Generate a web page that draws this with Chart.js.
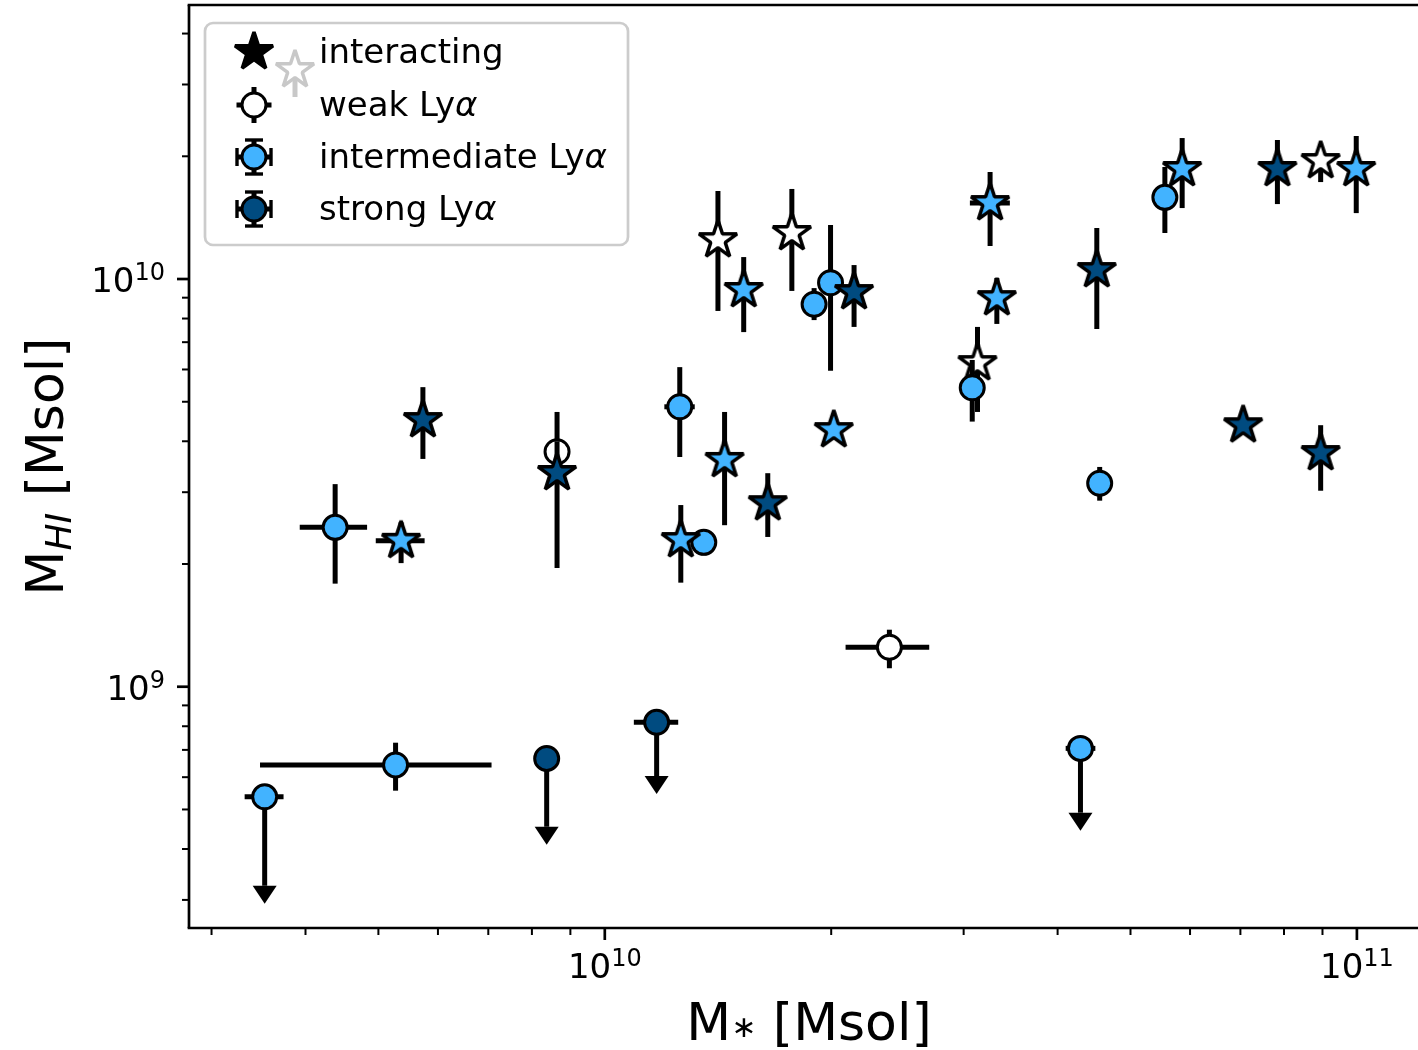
<!DOCTYPE html>
<html>
<head>
<meta charset="utf-8">
<title>M_HI vs M*</title>
<script src="https://cdn.jsdelivr.net/npm/chart.js@4.4.1/dist/chart.umd.min.js"></script>
<style>
  html, body { margin:0; padding:0; overflow:hidden; background:#ffffff; }
  #wrap { position:relative; width:1431px; height:1050px; }
  canvas { display:block; }
</style>
</head>
<body>
<div id="wrap"><canvas id="chart" width="1431" height="1050"></canvas></div>
<script>
// ---------------- DATA ----------------
// each row: [M*, M_HI, M*_low, M*_high, M_HI_low, M_HI_high, upperLimit]
const weakCircles = [
  [8.64e9, 3.77e9, null, null, 3.35e9, 4.72e9, 0],
  [2.39e10, 1.25e9, 2.09e10, 2.70e10, 1.11e9, 1.38e9, 0]
];
const intermediateCircles = [
  [3.53e9, 5.37e8, 3.32e9, 3.74e9, 3.25e8, null, 1],
  [5.27e9, 6.43e8, 3.48e9, 7.07e9, 5.56e8, 7.29e8, 0],
  [4.38e9, 2.46e9, 3.93e9, 4.83e9, 1.79e9, 3.14e9, 0],
  [1.258e10, 4.86e9, 1.20e10, 1.317e10, 3.66e9, 6.08e9, 0],
  [1.354e10, 2.26e9, null, null, 2.10e9, 2.39e9, 0],
  [1.898e10, 8.67e9, null, null, 7.93e9, 9.50e9, 0],
  [1.996e10, 9.79e9, null, null, 5.96e9, 1.356e10, 0],
  [3.08e10, 5.41e9, null, null, 4.47e9, 6.33e9, 0],
  [4.29e10, 7.06e8, 4.10e10, 4.49e10, 4.91e8, null, 1],
  [4.55e10, 3.155e9, null, null, 2.86e9, 3.46e9, 0],
  [5.555e10, 1.586e10, null, null, 1.297e10, 1.883e10, 0]
];
const strongCircles = [
  [8.37e9, 6.67e8, null, null, 4.535e8, null, 1],
  [1.172e10, 8.18e8, 1.093e10, 1.252e10, 6.04e8, null, 1]
];
const weakStars = [
  [1.414e10, 1.246e10, null, null, 8.35e9, 1.644e10, 0],
  [1.773e10, 1.297e10, null, null, 9.35e9, 1.663e10, 0],
  [3.13e10, 6.22e9, null, null, 4.72e9, 7.63e9, 0],
  [8.95e10, 1.947e10, null, null, 1.729e10, 2.096e10, 0]
];
const intermediateStars = [
  [5.36e9, 2.28e9, 4.96e9, 5.76e9, 2.01e9, 2.53e9, 0],
  [1.262e10, 2.29e9, null, null, 1.80e9, 2.79e9, 0],
  [1.443e10, 3.60e9, null, null, 2.49e9, 4.72e9, 0],
  [1.530e10, 9.40e9, null, null, 7.41e9, 1.132e10, 0],
  [2.016e10, 4.26e9, null, null, 4.07e9, 4.47e9, 0],
  [3.253e10, 1.536e10, 3.058e10, 3.456e10, 1.205e10, 1.83e10, 0],
  [3.321e10, 8.98e9, null, null, 7.76e9, 1.006e10, 0],
  [5.857e10, 1.862e10, null, null, 1.493e10, 2.217e10, 0],
  [9.98e10, 1.862e10, null, null, 1.451e10, 2.243e10, 0]
];
const strongStars = [
  [5.73e9, 4.51e9, null, null, 3.62e9, 5.43e9, 0],
  [8.64e9, 3.344e9, null, null, 1.955e9, 4.0e9, 0],
  [1.647e10, 2.82e9, null, null, 2.33e9, 3.34e9, 0],
  [2.145e10, 9.29e9, null, null, 7.63e9, 1.082e10, 0],
  [4.51e10, 1.052e10, null, null, 7.54e9, 1.334e10, 0],
  [7.06e10, 4.38e9, null, null, 4.25e9, 4.52e9, 0],
  [7.84e10, 1.862e10, null, null, 1.527e10, 2.193e10, 0],
  [8.95e10, 3.743e9, null, null, 3.025e9, 4.38e9, 0]
];

// ticks and labels
const xMajorExps = [10, 11];
const xMinorTicks = [3e9, 4e9, 5e9, 6e9, 7e9, 8e9, 9e9, 2e10, 3e10, 4e10, 5e10, 6e10, 7e10, 8e10, 9e10];
const yMajorExps = [9, 10];
const yMinorTicks = [3e8, 4e8, 5e8, 6e8, 7e8, 8e8, 9e8, 2e9, 3e9, 4e9, 5e9, 6e9, 7e9, 8e9, 9e9, 2e10, 3e10, 4e10];
const legendLabels = ['interacting', 'weak Lyα', 'intermediate Lyα', 'strong Lyα'];
const xTitleParts = ['M', '\u2217', ' [Msol]'];
const yTitleParts = ['M', 'HI', ' [Msol]'];
const X_MIN = 2.80e9, X_MAX = 1.247e11;
const Y_MIN = 2.56e8, Y_MAX = 4.70e10;

// ---------------- STYLE ----------------
const WHITE = '#ffffff', LIGHT = '#42b3ff', DARK = '#004b80';
const FONT = '"DejaVu Sans"';
const ERR_LW = 5, EDGE_LW = 3, STAR_LW = 3.5, STAR_R = 20, CIRC_R = 12;

function starPath(g, cx, cy, R) {
  const r = R * 0.381966;
  g.beginPath();
  for (let i = 0; i < 10; i++) {
    const ang = -Math.PI / 2 + i * Math.PI / 5;
    const rr = (i % 2) ? r : R;
    const px = cx + rr * Math.cos(ang), py = cy + rr * Math.sin(ang);
    if (i === 0) g.moveTo(px, py); else g.lineTo(px, py);
  }
  g.closePath();
}
function drawStar(g, cx, cy, fill, stroke) {
  starPath(g, cx, cy, STAR_R);
  g.fillStyle = fill; g.fill();
  g.lineJoin = 'bevel';
  g.lineWidth = STAR_LW; g.strokeStyle = stroke; g.stroke();
}
function starImg(fill) {
  const s = 64;
  const c = document.createElement('canvas');
  c.width = s; c.height = s;
  const g = c.getContext('2d');
  drawStar(g, s / 2, s / 2, fill, '#000');
  return c;
}

function mk(label, rows, shape, fill, order) {
  return {
    label: label,
    rows: rows,
    order: order,
    data: rows.map(r => ({ x: r[0], y: r[1] })),
    pointStyle: shape === 'star' ? starImg(fill) : 'circle',
    pointRadius: shape === 'star' ? 20 : CIRC_R,
    pointHoverRadius: shape === 'star' ? 20 : CIRC_R,
    pointBorderWidth: EDGE_LW,
    pointHoverBorderWidth: EDGE_LW,
    pointBackgroundColor: fill,
    pointBorderColor: '#000',
    showLine: false
  };
}

// error bars drawn under each dataset's markers
const errPlugin = {
  id: 'errbars',
  beforeDatasetDraw(chart, args) {
    const ds = chart.data.datasets[args.index];
    if (!ds.rows) return;
    const { ctx, chartArea: a, scales: { x, y } } = chart;
    ctx.save();
    ctx.beginPath(); ctx.rect(a.left, a.top, a.right - a.left, a.bottom - a.top); ctx.clip();
    ctx.strokeStyle = '#000'; ctx.fillStyle = '#000'; ctx.lineWidth = ERR_LW; ctx.lineCap = 'butt';
    const seg = (x1, y1, x2, y2) => { ctx.beginPath(); ctx.moveTo(x1, y1); ctx.lineTo(x2, y2); ctx.stroke(); };
    ds.rows.forEach(r => {
      const px = x.getPixelForValue(r[0]), py = y.getPixelForValue(r[1]);
      if (r[2] != null && r[3] != null) seg(x.getPixelForValue(r[2]), py, x.getPixelForValue(r[3]), py);
      if (r[6]) {
        const pb = y.getPixelForValue(r[4]);
        seg(px, py, px, pb);
        ctx.beginPath(); ctx.moveTo(px - 12, pb); ctx.lineTo(px + 12, pb); ctx.lineTo(px, pb + 18); ctx.closePath(); ctx.fill();
      } else if (r[4] != null && r[5] != null) {
        seg(px, y.getPixelForValue(r[5]), px, y.getPixelForValue(r[4]));
      }
    });
    ctx.restore();
  }
};

function drawPow(ctx, exp, x, yBase, align) {
  ctx.font = '34px ' + FONT; const wb = ctx.measureText('10').width;
  ctx.font = '24px ' + FONT; const we = ctx.measureText(String(exp)).width;
  const total = wb + we;
  const x0 = align === 'center' ? x - total / 2 : x - total;
  ctx.textAlign = 'left'; ctx.textBaseline = 'alphabetic'; ctx.fillStyle = '#000';
  ctx.font = '34px ' + FONT; ctx.fillText('10', x0, yBase);
  ctx.font = '24px ' + FONT; ctx.fillText(String(exp), x0 + wb, yBase - 12);
}

function drawParts(ctx, parts, cx, base, subDrop, subFont) {
  const fMain = '52px ' + FONT;
  const fSub = subFont;
  ctx.font = fMain; const w0 = ctx.measureText(parts[0]).width; const w2 = ctx.measureText(parts[2]).width;
  ctx.font = fSub; const w1 = ctx.measureText(parts[1]).width;
  const x0 = cx - (w0 + w1 + w2) / 2;
  ctx.textAlign = 'left'; ctx.textBaseline = 'alphabetic'; ctx.fillStyle = '#000';
  ctx.font = fMain; ctx.fillText(parts[0], x0, base);
  ctx.font = fSub; ctx.fillText(parts[1], x0 + w0, base + subDrop);
  ctx.font = fMain; ctx.fillText(parts[2], x0 + w0 + w1, base);
}

function roundRect(ctx, x, y, w, h, r) {
  ctx.beginPath();
  ctx.moveTo(x + r, y);
  ctx.lineTo(x + w - r, y); ctx.arcTo(x + w, y, x + w, y + r, r);
  ctx.lineTo(x + w, y + h - r); ctx.arcTo(x + w, y + h, x + w - r, y + h, r);
  ctx.lineTo(x + r, y + h); ctx.arcTo(x, y + h, x, y + h - r, r);
  ctx.lineTo(x, y + r); ctx.arcTo(x, y, x + r, y, r);
  ctx.closePath();
}

function legendCircle(ctx, cx, cy, fill, caps) {
  ctx.strokeStyle = '#000';
  const seg = (x1, y1, x2, y2, lw) => { ctx.lineWidth = lw; ctx.beginPath(); ctx.moveTo(x1, y1); ctx.lineTo(x2, y2); ctx.stroke(); };
  seg(cx, cy - 18, cx, cy + 18, ERR_LW);
  seg(cx - 17.5, cy, cx + 17.5, cy, ERR_LW);
  if (caps) {
    seg(cx - 9, cy - 17, cx + 9, cy - 17, 3.4);
    seg(cx - 9, cy + 17, cx + 9, cy + 17, 3.4);
    seg(cx - 17, cy - 9, cx - 17, cy + 9, 3.4);
    seg(cx + 17, cy - 9, cx + 17, cy + 9, 3.4);
  }
  ctx.beginPath(); ctx.arc(cx, cy, CIRC_R, 0, Math.PI * 2);
  ctx.fillStyle = fill; ctx.fill();
  ctx.lineWidth = EDGE_LW; ctx.strokeStyle = '#000'; ctx.stroke();
}

const decoPlugin = {
  id: 'deco',
  afterDraw(chart) {
    const { ctx, chartArea: a, scales: { x, y } } = chart;
    ctx.save();
    const seg = (x1, y1, x2, y2, lw) => { ctx.lineWidth = lw; ctx.beginPath(); ctx.moveTo(x1, y1); ctx.lineTo(x2, y2); ctx.stroke(); };
    ctx.strokeStyle = '#000'; ctx.lineCap = 'butt';
    // spines
    const SW = 2.7;
    seg(a.left - SW / 2, a.top, a.right + SW / 2, a.top, SW);
    seg(a.left - SW / 2, a.bottom, a.right + SW / 2, a.bottom, SW);
    seg(a.left, a.top, a.left, a.bottom, SW);
    seg(a.right, a.top, a.right, a.bottom, SW);
    // x ticks
    xMinorTicks.forEach(v => { const p = x.getPixelForValue(v); seg(p, a.bottom, p, a.bottom + 7, 2); });
    xMajorExps.forEach(e => {
      const p = x.getPixelForValue(Math.pow(10, e));
      seg(p, a.bottom, p, a.bottom + 12, 2.7);
      drawPow(ctx, e, p, a.bottom + 50, 'center');
    });
    // y ticks
    yMinorTicks.forEach(v => { const p = y.getPixelForValue(v); seg(a.left, p, a.left - 7, p, 2); });
    yMajorExps.forEach(e => {
      const p = y.getPixelForValue(Math.pow(10, e));
      seg(a.left, p, a.left - 12, p, 2.7);
      drawPow(ctx, e, a.left - 24, p + 13, 'right');
    });
    // axis titles
    drawParts(ctx, xTitleParts, (a.left + a.right) / 2, 1040, -3, '30px ' + FONT);
    ctx.save();
    ctx.translate(63, (a.top + a.bottom) / 2);
    ctx.rotate(-Math.PI / 2);
    drawParts(ctx, yTitleParts, 0, 0, 8, 'italic 36px ' + FONT);
    ctx.restore();

    // legend
    const L = a.left + 16, T = a.top + 18, W = 423, H = 222;
    roundRect(ctx, L, T, W, H, 8);
    ctx.fillStyle = 'rgba(255,255,255,0.8)'; ctx.fill();
    ctx.strokeStyle = '#cccccc'; ctx.lineWidth = 2.7; ctx.stroke();
    const mx = L + 49, tx = L + 114;
    const rowsY = [T + 29, T + 82, T + 134, T + 186];
    // interacting: black star + grey open star with limit line
    ctx.strokeStyle = '#c8c8c8';
    seg(mx + 41, rowsY[0] + 18, mx + 41, rowsY[0] + 45, ERR_LW);
    drawStar(ctx, mx + 41, rowsY[0] + 18, '#ffffff', '#c8c8c8');
    drawStar(ctx, mx, rowsY[0], '#000000', '#000000');
    legendCircle(ctx, mx, rowsY[1], WHITE, false);
    legendCircle(ctx, mx, rowsY[2], LIGHT, true);
    legendCircle(ctx, mx, rowsY[3], DARK, true);
    ctx.fillStyle = '#000'; ctx.textAlign = 'left'; ctx.textBaseline = 'alphabetic';
    legendLabels.forEach((lab, i) => {
      const yb = rowsY[i] + 11;
      if (lab.endsWith('α')) {
        const pre = lab.slice(0, -1);
        ctx.font = '34px ' + FONT; ctx.fillText(pre, tx, yb);
        const w = ctx.measureText(pre).width;
        ctx.font = 'italic 34px ' + FONT; ctx.fillText('α', tx + w, yb);
      } else {
        ctx.font = '34px ' + FONT; ctx.fillText(lab, tx, yb);
      }
    });
    ctx.restore();
  }
};

new Chart(document.getElementById('chart'), {
  type: 'scatter',
  data: {
    datasets: [
      mk('weak Lyα (interacting)', weakStars, 'star', WHITE, 3),
      mk('weak Lyα', weakCircles, 'circle', WHITE, 2),
      mk('intermediate Lyα', intermediateCircles, 'circle', LIGHT, 2),
      mk('strong Lyα', strongCircles, 'circle', DARK, 2),
      mk('intermediate Lyα (interacting)', intermediateStars, 'star', LIGHT, 1),
      mk('strong Lyα (interacting)', strongStars, 'star', DARK, 0)
    ]
  },
  options: {
    responsive: false,
    animation: false,
    events: [],
    layout: { autoPadding: false, padding: { left: 0, top: 5, right: 2, bottom: 0 } },
    plugins: { legend: { display: false }, tooltip: { enabled: false }, title: { display: false } },
    scales: {
      x: {
        type: 'logarithmic', position: 'bottom', min: X_MIN, max: X_MAX, bounds: 'data',
        grid: { display: false, drawTicks: false }, border: { display: false },
        ticks: { display: false },
        afterFit(s) { s.height = 122; }
      },
      y: {
        type: 'logarithmic', position: 'left', min: Y_MIN, max: Y_MAX, bounds: 'data',
        grid: { display: false, drawTicks: false }, border: { display: false },
        ticks: { display: false },
        afterFit(s) { s.width = 189; }
      }
    }
  },
  plugins: [errPlugin, decoPlugin]
});
</script>
</body>
</html>
